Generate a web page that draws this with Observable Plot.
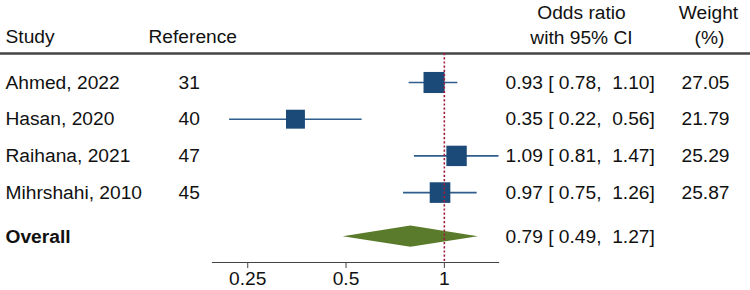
<!DOCTYPE html>
<html><head><meta charset="utf-8">
<script src="https://cdn.jsdelivr.net/npm/d3@7"></script>
<script src="https://cdn.jsdelivr.net/npm/@observablehq/plot@0.6"></script>
<style>
body{margin:0;background:#fff}
svg text{white-space:pre}
</style>
</head><body><div id="chart"></div>
<script>
const studies = ["Ahmed, 2022", "Hasan, 2020", "Raihana, 2021", "Mihrshahi, 2010"];
const references = ["31", "40", "47", "45"];
const oddsRatio = [0.93, 0.35, 1.09, 0.97];
const ciLow = [0.78, 0.22, 0.81, 0.75];
const ciHigh = [1.10, 0.56, 1.47, 1.26];
const weights = [27.05, 21.79, 25.29, 25.87];
const overallLabel = "Overall";
const overallOR = 0.79, overallLow = 0.49, overallHigh = 1.27;
const xTicks = [0.25, 0.5, 1];

const W = 750, H = 290, ML = 212, MR = 252, MT = 53, MB = 28;
const FS = 19.2;
const FONT = "'Liberation Sans', Arial, Helvetica, sans-serif";
const navy = "#1b4a78", whisker = "#2f5d8c", olive = "#5a7b2b", maroon = "#a11d40", ink = "#111";

const fmt = v => v.toFixed(2);
const rows = studies.map((s, i) => ({
  study: s, ref: references[i], or: oddsRatio[i], lo: ciLow[i], hi: ciHigh[i], w: weights[i], y: i,
  orText: `${fmt(oddsRatio[i])} [ ${fmt(ciLow[i])},  ${fmt(ciHigh[i])}]`, wText: fmt(weights[i])
}));
const overallY = studies.length + 0.2;
const overallRow = [{study: overallLabel, y: overallY, orText: `${fmt(overallOR)} [ ${fmt(overallLow)},  ${fmt(overallHigh)}]`}];
const dHalf = 0.29;
const diamond = [
  {x: overallLow, y1: overallY, y2: overallY},
  {x: overallOR, y1: overallY - dHalf, y2: overallY + dHalf},
  {x: overallHigh, y1: overallY, y2: overallY}
];
const headers = [
  {t: "Study", x: 5, y: 36, a: "start"},
  {t: "Reference", x: 148, y: 36, a: "start"},
  {t: "Odds ratio", x: 581, y: 12, a: "middle"},
  {t: "with 95% CI", x: 581, y: 37, a: "middle"},
  {t: "Weight", x: 708, y: 12, a: "middle"},
  {t: "(%)", x: 709, y: 37, a: "middle"}
];

const textOpts = {frameAnchor: "left", fontSize: FS, fill: ink, lineAnchor: "middle"};

const chart = Plot.plot({
  width: W, height: H,
  marginLeft: ML, marginRight: MR, marginTop: MT, marginBottom: MB,
  style: {fontFamily: FONT, fontSize: FS + "px", background: "#fff", color: ink},
  x: {type: "log", domain: [0.195, 1.465]},
  y: {type: "linear", domain: [-0.79, 4.905], reverse: true, axis: null},
  r: {type: "sqrt", domain: [0, d3.max(weights)], range: [0, 11.9]},
  marks: [
    Plot.ruleY([-0.79], {stroke: "#444", strokeWidth: 2.6, insetLeft: -ML, insetRight: -MR}),
    ...headers.map(h => Plot.text([h], {text: "t", frameAnchor: "top-left", dx: h.x - ML, dy: h.y - MT, textAnchor: h.a, lineAnchor: "middle", fontSize: FS, fill: ink})),
    Plot.frame({anchor: "bottom", stroke: "#444", strokeWidth: 1.2}),
    Plot.axisX({ticks: xTicks, tickFormat: d => String(d), tickSize: 6, fontSize: FS, stroke: "#444", fill: ink}),
    Plot.ruleY(rows, {y: "y", x1: "lo", x2: "hi", stroke: whisker, strokeWidth: 1.6}),
    Plot.dot(rows, {x: "or", y: "y", r: "w", symbol: "square", fill: navy, stroke: "none"}),
    Plot.areaY(diamond, {x: "x", y1: "y1", y2: "y2", fill: olive, curve: "linear"}),
    Plot.ruleX([1], {stroke: maroon, strokeWidth: 1.6, strokeDasharray: "2.2,2"}),
    Plot.text(rows, {...textOpts, y: "y", text: "study", dx: 5 - ML, textAnchor: "start"}),
    Plot.text(rows, {...textOpts, y: "y", text: "ref", dx: 178 - ML, textAnchor: "start"}),
    Plot.text(overallRow, {...textOpts, y: "y", text: "study", dx: 5 - ML, textAnchor: "start", fontWeight: "bold"}),
    Plot.text(rows, {...textOpts, y: "y", text: "orText", dx: 505 - ML, textAnchor: "start"}),
    Plot.text(rows, {...textOpts, y: "y", text: "wText", dx: 681 - ML, textAnchor: "start"}),
    Plot.text(overallRow, {...textOpts, y: "y", text: "orText", dx: 505 - ML, textAnchor: "start"})
  ]
});
document.getElementById("chart").append(chart);
</script>
</body></html>
